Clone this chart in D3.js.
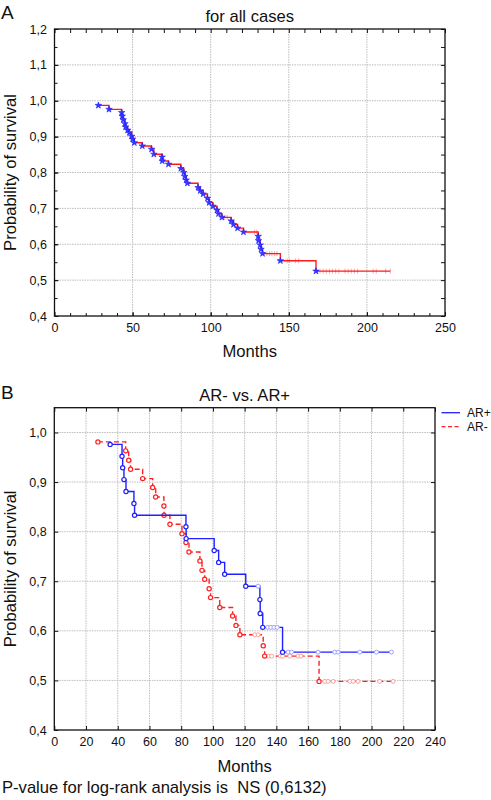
<!DOCTYPE html>
<html><head><meta charset="utf-8">
<script src="https://cdn.jsdelivr.net/npm/d3@7"></script>
<style>body{margin:0;background:#fff} text{font-family:"Liberation Sans",Arial,Helvetica,sans-serif;fill:#111}</style>
</head><body><svg id="c" width="491" height="800"></svg>
<script>
// ---------- DATA ----------
// Panel A: all cases (event times in months and KM survival after each event)
const allTimes = [28.1, 34.9, 43.0, 43.4, 44.0, 45.1, 45.5, 46.8, 47.9, 49.4, 50.0, 51.1, 56.2, 62.1, 63.6, 68.9, 69.0, 73.0, 80.9, 82.8, 83.4, 84.3, 85.1, 91.9, 93.3, 95.2, 97.9, 99.0, 101.4, 104.0, 105.0, 107.2, 113.1, 114.6, 117.2, 121.0, 130.4, 130.6, 131.7, 132.2, 133.2, 144.6, 167.4];
const allSurv  = [0.987, 0.976, 0.967, 0.957, 0.947, 0.936, 0.927, 0.918, 0.911, 0.901, 0.893, 0.883, 0.874, 0.865, 0.851, 0.843, 0.832, 0.823, 0.811, 0.800, 0.789, 0.779, 0.770, 0.758, 0.749, 0.740, 0.728, 0.716, 0.706, 0.695, 0.685, 0.675, 0.665, 0.655, 0.645, 0.634, 0.622, 0.610, 0.598, 0.586, 0.574, 0.554, 0.525];
const allEnd = 215;
const allCensor = [109, 110.5, 128, 129.5, 136, 137.7, 139.2, 140.9, 142.4, 149, 150.5, 154.2, 156.3, 170, 172, 174, 176, 178, 180, 182, 186, 188, 190, 192, 194, 204, 206, 212, 215];

// Panel B: AR+ and AR-
const arPosTimes = [35.2, 42.7, 43.1, 43.9, 45.2, 50.2, 50.6, 83.0, 83.1, 100.8, 103.6, 107.4, 120.7, 129.6, 129.8, 131.4, 143.9];
const arPosSurv  = [0.976, 0.952, 0.929, 0.905, 0.881, 0.857, 0.833, 0.810, 0.786, 0.762, 0.738, 0.714, 0.690, 0.663, 0.635, 0.607, 0.557];
const arPosEnd = 212.5;
const arPosCensor = [128.5, 134.5, 136.5, 138.5, 140.5, 147.4, 149.6, 166.3, 176.8, 178.9, 192.6, 203.1, 212.5];

const arNegTimes = [27.5, 45.0, 46.9, 48.1, 55.7, 62.0, 63.9, 69.1, 69.2, 72.9, 80.5, 83.0, 84.9, 91.8, 93.1, 94.8, 97.6, 98.5, 104.3, 112.4, 114.5, 117.0, 131.7, 132.6, 166.9];
const arNegSurv  = [0.981, 0.963, 0.944, 0.926, 0.907, 0.889, 0.870, 0.852, 0.833, 0.815, 0.796, 0.778, 0.759, 0.741, 0.722, 0.704, 0.685, 0.667, 0.647, 0.630, 0.611, 0.592, 0.570, 0.549, 0.498];
const arNegEnd = 214.7;
const arNegCensor = [126.4, 128.5, 135, 137, 142.5, 144, 148.5, 153.8, 155.5, 170.5, 172.6, 175.8, 186.3, 188.4, 191.5, 205.1, 213.6];

const aXTicks = [0, 50, 100, 150, 200, 250];
const aYTicks = [0.4, 0.5, 0.6, 0.7, 0.8, 0.9, 1.0, 1.1, 1.2];
const bXTicks = [0, 20, 40, 60, 80, 100, 120, 140, 160, 180, 200, 220, 240];
const bYTicks = [0.4, 0.5, 0.6, 0.7, 0.8, 0.9, 1.0];
const legendLabels = ["AR+", "AR-"];

// ---------- DRAW ----------
const svg = d3.select("#c");
const fmtY = v => d3.format(".1f")(v).replace(".", ",");
const FONT_T = "16.6px", FONT_K = "12.5px";

function stepPoints(times, surv, end) {
  const pts = times.map((t, i) => [t, surv[i]]);
  pts.push([end, surv[surv.length - 1]]);
  return pts;
}
function survAt(times, surv, t) {
  let s = surv[0];
  for (let i = 0; i < times.length; i++) if (times[i] <= t) s = surv[i];
  return s;
}

function panel(o) {
  const g = svg.append("g");
  const x = d3.scaleLinear().domain(o.xDomain).range([o.left, o.right]);
  const y = d3.scaleLinear().domain(o.yDomain).range([o.bottom, o.top]);
  // grid
  g.append("g").selectAll("line").data(o.xTicks.slice(1, -1)).join("line")
    .attr("x1", d => x(d)).attr("x2", d => x(d)).attr("y1", o.top).attr("y2", o.bottom)
    .attr("stroke", "#bdbdbd").attr("stroke-width", 1).attr("stroke-dasharray", "1.5,1");
  g.append("g").selectAll("line").data(o.yTicks.filter(v => y(v) < o.bottom - 1 && y(v) > o.top + 1)).join("line")
    .attr("x1", o.left).attr("x2", o.right).attr("y1", d => y(d)).attr("y2", d => y(d))
    .attr("stroke", "#bdbdbd").attr("stroke-width", 1).attr("stroke-dasharray", "1.5,1");
  // axes (labels + inner ticks)
  g.append("g").attr("transform", `translate(0,${o.bottom})`)
    .call(d3.axisBottom(x).tickValues(o.xTicks).tickFormat(d => d).tickSize(-4).tickPadding(7.2));
  g.append("g").attr("transform", `translate(${o.left},0)`)
    .call(d3.axisLeft(y).tickValues(o.yTicks).tickFormat(fmtY).tickSize(-4).tickPadding(7.6));
  g.append("g").attr("transform", `translate(0,${o.top})`)
    .call(d3.axisTop(x).tickValues(o.xMinor).tickFormat("").tickSize(-4));
  g.append("g").attr("transform", `translate(${o.right},0)`)
    .call(d3.axisRight(y).tickValues(o.yMinor).tickFormat("").tickSize(-4));
  if (o.xMinorBottom) g.append("g").attr("transform", `translate(0,${o.bottom})`)
    .call(d3.axisBottom(x).tickValues(o.xMinorBottom).tickFormat("").tickSize(-3));
  if (o.yMinorLeft) g.append("g").attr("transform", `translate(${o.left},0)`)
    .call(d3.axisLeft(y).tickValues(o.yMinorLeft).tickFormat("").tickSize(-3));
  g.selectAll(".domain").remove();
  g.selectAll(".tick line").attr("stroke", "#111").attr("stroke-width", 1);
  g.selectAll(".tick text").style("font-size", FONT_K).attr("fill", "#111");
  // frame
  g.append("rect").attr("x", o.left).attr("y", o.top).attr("width", o.right - o.left).attr("height", o.bottom - o.top)
    .attr("fill", "none").attr("stroke", "#111").attr("stroke-width", 1.3);
  // titles
  g.append("text").attr("x", (o.left + o.right) / 2).attr("y", o.titleY).attr("text-anchor", "middle")
    .style("font-size", FONT_T).text(o.title);
  g.append("text").attr("x", 1).attr("y", o.letterY).style("font-size", "19px").text(o.letter);
  g.append("text").attr("x", (o.left + o.right) / 2).attr("y", o.xTitleY).attr("text-anchor", "middle")
    .style("font-size", FONT_T).text("Months");
  g.append("text").attr("transform", `translate(16,${(o.top + o.bottom) / 2}) rotate(-90)`).attr("text-anchor", "middle")
    .style("font-size", FONT_T).text("Probability of survival");
  return {g, x, y};
}

// ---- Panel A ----
{
  const {g, x, y} = panel({
    left: 54.5, right: 445, top: 29, bottom: 316, xDomain: [0, 250], yDomain: [0.4, 1.2],
    xTicks: aXTicks, yTicks: aYTicks,
    xMinor: d3.range(0, 251, 10), yMinor: d3.range(0.4, 1.2001, 0.05),
    xMinorBottom: d3.range(10, 250, 10), yMinorLeft: d3.range(0.45, 1.2, 0.05),
    title: "for all cases", titleY: 21.5, letter: "A", letterY: 18.5, xTitleY: 356.5
  });
  const line = d3.line().x(d => x(d[0])).y(d => y(d[1])).curve(d3.curveStepAfter);
  // censor marks
  g.append("g").selectAll("line").data(allCensor).join("line")
    .attr("x1", d => x(d)).attr("x2", d => x(d))
    .attr("y1", d => y(survAt(allTimes, allSurv, d)) - 2.5).attr("y2", d => y(survAt(allTimes, allSurv, d)) + 2.5)
    .attr("stroke", "#ffa8a8").attr("stroke-width", 1);
  g.append("path").datum(stepPoints(allTimes, allSurv, allEnd)).attr("d", line)
    .attr("fill", "none").attr("stroke", "#ff1a1a").attr("stroke-width", 1.4);
  g.append("g").selectAll("path").data(allTimes.map((t, i) => [t, allSurv[i]])).join("path")
    .attr("transform", d => `translate(${x(d[0])},${y(d[1])})`)
    .attr("d", d3.symbol(d3.symbolStar, 13)).attr("fill", "#3a3aff").attr("stroke", "#1a1aff").attr("stroke-width", 0.6);
}

// ---- Panel B ----
{
  const {g, x, y} = panel({
    left: 54.3, right: 435, top: 407.7, bottom: 730, xDomain: [0, 240], yDomain: [0.4, 1.05],
    xTicks: bXTicks, yTicks: bYTicks,
    xMinor: bXTicks, yMinor: bYTicks,
    title: "AR- vs. AR+", titleY: 400.5, letter: "B", letterY: 399, xTitleY: 771.5
  });
  const line = d3.line().x(d => x(d[0])).y(d => y(d[1])).curve(d3.curveStepAfter);
  const series = [
    {t: arNegTimes, s: arNegSurv, e: arNegEnd, c: arNegCensor, col: "#ff2020", pale: "#ffa0a0", dash: "5,3"},
    {t: arPosTimes, s: arPosSurv, e: arPosEnd, c: arPosCensor, col: "#1f1fff", pale: "#a0a0ff", dash: null}
  ];
  series.forEach(S => {
    g.append("path").datum(stepPoints(S.t, S.s, S.e)).attr("d", line)
      .attr("fill", "none").attr("stroke", S.col).attr("stroke-width", 1.4)
      .attr("stroke-dasharray", S.dash);
    g.append("g").selectAll("circle").data(S.c).join("circle")
      .attr("cx", d => x(d)).attr("cy", d => y(survAt(S.t, S.s, d))).attr("r", 2)
      .attr("fill", "#fff").attr("stroke", S.pale).attr("stroke-width", 1);
    g.append("g").selectAll("circle").data(S.t.map((t, i) => [t, S.s[i]])).join("circle")
      .attr("cx", d => x(d[0])).attr("cy", d => y(d[1])).attr("r", 2.1)
      .attr("fill", "#fff").attr("stroke", S.col).attr("stroke-width", 1.2);
  });
  // legend
  const lg = svg.append("g");
  const legCols = ["#1f1fff", "#ff2020"], legDash = [null, "4,2.5"];
  legendLabels.forEach((lab, i) => {
    const yy = 412.7 + i * 14;
    lg.append("line").attr("x1", 441.5).attr("x2", 460).attr("y1", yy).attr("y2", yy)
      .attr("stroke", legCols[i]).attr("stroke-width", 1.3).attr("stroke-dasharray", legDash[i]);
    lg.append("text").attr("x", 467).attr("y", yy).attr("dy", "0.35em").style("font-size", "12px").text(lab);
  });
  svg.append("text").attr("x", 2).attr("y", 793).style("font-size", FONT_T).style("white-space", "pre")
    .attr("xml:space", "preserve").text("P-value for log-rank analysis is  NS (0,6132)");
}
</script></body></html>
